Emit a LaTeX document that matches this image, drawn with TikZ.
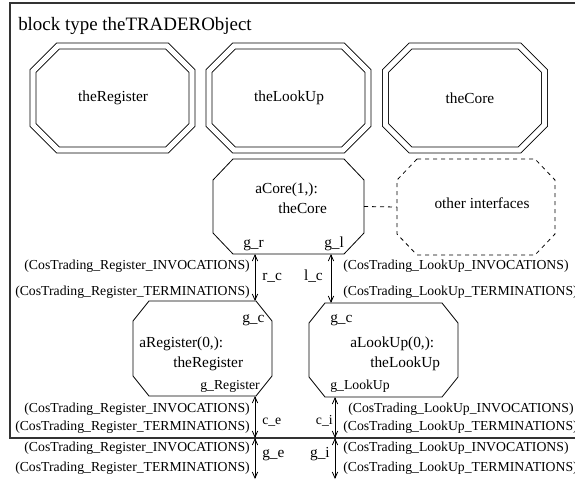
\documentclass[tikz,border=0pt]{standalone}
\usepackage{fontspec}
\setmainfont{Liberation Serif}
\usetikzlibrary{calc,arrows.meta}
\newcommand\octopath[4][]{\draw[#1] ($(#2.north west)+(#3,0)$) -- ($(#2.north east)+(-#3,0)$) -- ($(#2.north east)+(0,#4)$) -- ($(#2.south east)+(0,-#4)$) -- ($(#2.south east)+(-#3,0)$) -- ($(#2.south west)+(#3,0)$) -- ($(#2.south west)+(0,-#4)$) -- ($(#2.north west)+(0,#4)$) -- cycle;}
\begin{document}
\begin{tikzpicture}[x=0.75pt,y=-0.75pt,
  area/.style={rectangle, draw=none, inner sep=0pt, outer sep=0pt},
  typeline/.style={line width=0.6pt, double, double distance=3.9pt},
  instline/.style={line width=0.6pt},
  tx/.style={font=\fontsize{11.5}{14}\selectfont, inner sep=0pt},
  sm/.style={font=\fontsize{10.3}{12}\selectfont, inner sep=0pt},
  arr/.style={{Straight Barb[length=4.5pt,width=4pt]}-{Straight Barb[length=4.5pt,width=4pt]}, line width=0.6pt}
]
\useasboundingbox (0,0) rectangle (575,480);
\clip (0,0) rectangle (575,480);
% frame
\coordinate (ftl) at (10,3);
\coordinate (fbl) at (10,438);
\draw[line width=0.8pt, draw=black!80] (ftl -| 580,0) -- (ftl) -- (fbl) -- (fbl -| 580,0);
\node[font=\fontsize{14.2}{17}\selectfont, inner sep=0pt, anchor=base west] (title) at (18,30) {block type theTRADERObject};
% type boxes
\node[area, minimum width=159*0.75pt, minimum height=104*0.75pt] (treg) at (112.5,98) {};
\node[area, minimum width=159*0.75pt, minimum height=104*0.75pt] (tlook) at (288.5,98) {};
\node[area, minimum width=159*0.75pt, minimum height=104*0.75pt] (tcore) at (465,98) {};
\octopath[typeline]{treg}{25}{25}
\octopath[typeline]{tlook}{25}{25}
\octopath[typeline]{tcore}{25}{25}
\node[tx] (tregtxt) at (113,98) {theRegister};
\node[tx] (tlooktxt) at (289,98) {theLookUp};
\node[tx] (tcoretxt) at (470,98) {theCore};
% instances
\node[area, minimum width=151*0.75pt, minimum height=95*0.75pt] (acore) at (288.5,206.5) {};
\octopath[instline]{acore}{20}{21}
\node[area, minimum width=158*0.75pt, minimum height=96*0.75pt] (other) at (476,207) {};
\octopath[instline, dashed]{other}{20}{21}
\node[tx] (othertxt) at (482,203) {other interfaces};
\draw[dashed, line width=0.6pt] (acore.east) -- (other.west);
\node[area, minimum width=139*0.75pt, minimum height=95*0.75pt] (areg) at (202.5,348.5) {};
\octopath[instline]{areg}{16}{20}
\node[area, minimum width=149*0.75pt, minimum height=94*0.75pt] (alook) at (383.5,350) {};
\octopath[instline]{alook}{16}{20}
% texts in aCore
\node[tx, anchor=base west] (acoret1) at (255,193) {aCore(1,):};
\node[tx, anchor=base west] (acoret2) at (278,213) {theCore};
\node[tx, anchor=base west] (gr) at (243,247) {g\_r};
\node[tx, anchor=base west] (gl) at (324,247) {g\_l};
% texts in aRegister
\node[tx, anchor=base west] (gcr) at (242,322) {g\_c};
\node[tx, anchor=base west] (aregt1) at (139,347) {aRegister(0,):};
\node[tx, anchor=base west] (aregt2) at (173,367) {theRegister};
\node[sm, anchor=base west] (greg) at (200,389) {g\_Register};
% texts in aLookUp
\node[tx, anchor=base west] (gcl) at (330,322) {g\_c};
\node[tx, anchor=base west] (alookt1) at (350,347) {aLookUp(0,):};
\node[tx, anchor=base west] (alookt2) at (370,367) {theLookUp};
\node[sm, anchor=base west] (glook) at (330,389) {g\_LookUp};
% connectors
\coordinate (xr) at (255,0);
\coordinate (xl) at (331,0);
\coordinate (xi) at (335,0);
\coordinate (env) at (0,479);
\draw[arr] (acore.south -| xr) -- (areg.north -| xr);
\draw[arr] (acore.south -| xl) -- (alook.north -| xl);
\draw[arr] (areg.south -| xr) -- (fbl -| xr);
\draw[arr] (fbl -| xr) -- (env -| xr);
\draw[arr] (alook.south -| xi) -- (fbl -| xi);
\draw[arr] (fbl -| xi) -- (env -| xi);
% connector labels
\node[tx, anchor=base west] (rc) at (262,280) {r\_c};
\node[tx, anchor=base east] (lc) at (323,280) {l\_c};
\node[sm, anchor=base west] (ce) at (262,424) {c\_e};
\node[tx, anchor=base west] (ge) at (262,457) {g\_e};
\node[sm, anchor=base east] (ci) at (333,424) {c\_i};
\node[tx, anchor=base east] (gi) at (330,457) {g\_i};
% signal lists
\node[sm, anchor=base east] (s1) at (250,269) {(CosTrading\_Register\_INVOCATIONS)};
\node[sm, anchor=base east] (s2) at (250,295) {(CosTrading\_Register\_TERMINATIONS)};
\node[sm, anchor=base west] (s3) at (343,269) {(CosTrading\_LookUp\_INVOCATIONS)};
\node[sm, anchor=base west] (s4) at (343,295) {(CosTrading\_LookUp\_TERMINATIONS)};
\node[sm, anchor=base east] (s5) at (250,412) {(CosTrading\_Register\_INVOCATIONS)};
\node[sm, anchor=base east] (s6) at (250,430) {(CosTrading\_Register\_TERMINATIONS)};
\node[sm, anchor=base east] (s7) at (250,451) {(CosTrading\_Register\_INVOCATIONS)};
\node[sm, anchor=base east] (s8) at (250,471) {(CosTrading\_Register\_TERMINATIONS)};
\node[sm, anchor=base west] (s9) at (348,412) {(CosTrading\_LookUp\_INVOCATIONS)};
\node[sm, anchor=base west] (s10) at (343,430) {(CosTrading\_LookUp\_TERMINATIONS)};
\node[sm, anchor=base west] (s11) at (343,451) {(CosTrading\_LookUp\_INVOCATIONS)};
\node[sm, anchor=base west] (s12) at (343,471) {(CosTrading\_LookUp\_TERMINATIONS)};
\end{tikzpicture}
\end{document}
